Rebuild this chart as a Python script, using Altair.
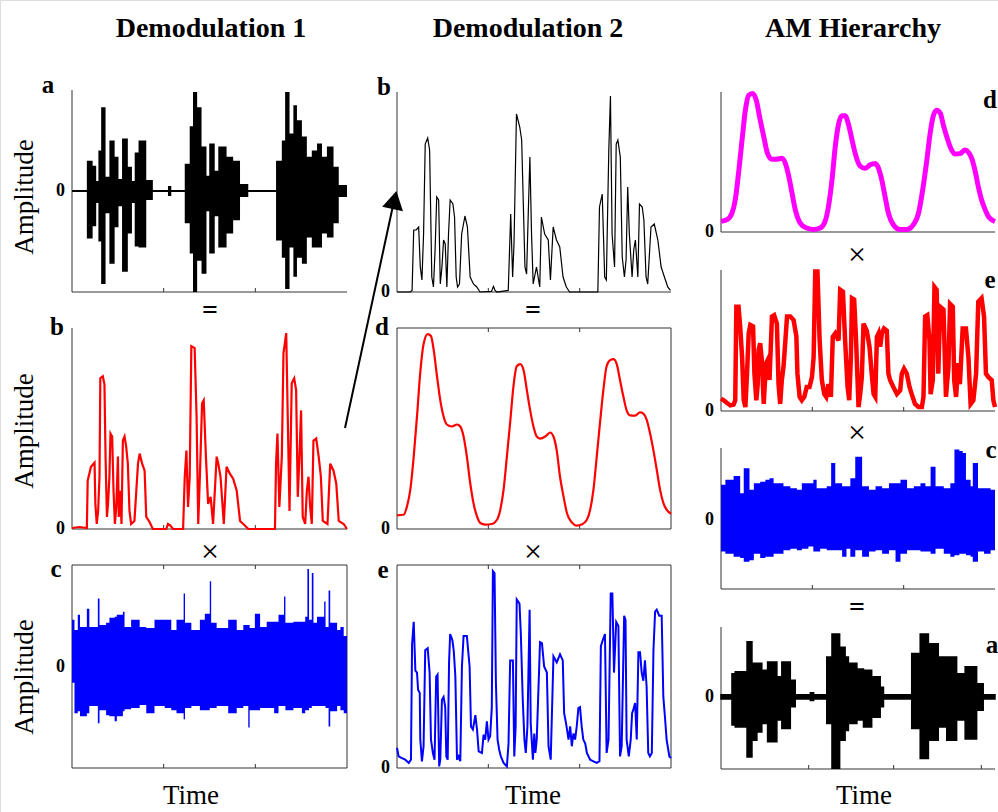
import altair as alt
import pandas as pd

SERIF = "Liberation Serif"
AXC = "#333333"
ONE = pd.DataFrame({"k": [0]})

# ---------------- Demodulation 1 : (a) speech waveform envelope ----------------
d1a_t = [0, 5.4, 7.5, 8.8, 9.6, 10.6, 12.2, 13.6, 15.5, 16.9, 18.2, 20.3, 21.8, 22.8, 24.2, 27.0, 29.4, 34.9, 36.1, 41.0,
         42.8, 44.0, 45.5, 47.1, 48.9, 49.9, 51.9, 53.2, 56.2, 58.6, 61.1, 64.1, 74.2, 76.3, 77.5, 79.1, 80.5, 81.8, 83.6, 85.4,
         87.2, 89.1, 90.9, 92.7, 95.1, 97.0, 100]
d1a_up = [0.01, 0.30, 0.25, 0.10, 0.40, 0.83, 0.14, 0.50, 0.34, 0.12, 0.52, 0.24, 0.10, 0.38, 0.50, 0.11, 0.01, 0.05, 0.01, 0.27,
          0.64, 0.98, 0.83, 0.44, 0.15, 0.47, 0.20, 0.44, 0.34, 0.30, 0.07, 0.01, 0.30, 0.50, 0.98, 0.57, 0.85, 0.70, 0.54, 0.34,
          0.40, 0.47, 0.34, 0.44, 0.24, 0.06, 0.01]
d1a_lo = [-0.01, -0.47, -0.35, -0.12, -0.50, -0.92, -0.22, -0.72, -0.36, -0.15, -0.80, -0.42, -0.12, -0.55, -0.56, -0.09, -0.01, -0.05, -0.01, -0.32,
          -0.62, -1.0, -0.69, -0.82, -0.20, -0.62, -0.25, -0.56, -0.42, -0.29, -0.06, -0.01, -0.49, -0.66, -0.97, -0.56, -0.85, -0.66, -0.72, -0.46,
          -0.56, -0.56, -0.42, -0.46, -0.32, -0.06, -0.01]

# ---------------- Demodulation 1 : (b) envelope (red) ----------------
d1b_t = [0, 2.7, 5.4, 5.7, 6.9, 8.2, 8.5, 9.0, 9.5, 10.0, 10.3, 11.2, 11.8, 12.2, 12.7, 13.1, 13.6, 14.0, 14.6, 15.1,
         15.6, 16.1, 16.7, 17.0, 17.5, 18.0, 18.5, 19.1, 19.7, 20.3, 20.9, 21.5, 22.7, 24.0, 24.6, 25.5, 26.4, 27.0, 28.2, 29.4,
         34.3, 34.9, 35.8, 36.7, 40.4, 41.0, 41.6, 42.2, 42.8, 43.4, 44.6, 45.3, 45.9, 46.5, 47.3, 47.9, 48.7, 49.5, 50.4, 51.3,
         52.6, 53.2, 54.0, 54.7, 55.2, 56.2, 57.4, 58.6, 59.9, 61.1, 62.3, 64.1, 73.8, 74.2, 74.7, 75.4, 76.3, 76.9, 77.9, 78.5,
         79.1, 79.9, 80.8, 81.5, 82.1, 82.7, 83.3, 83.9, 84.8, 85.4, 86.0, 86.6, 87.2, 87.8, 88.8, 89.7, 90.5, 91.2, 92.9, 93.9,
         95.1, 96.1, 97.0, 98.8, 100]
d1b_v = [0.005, 0.01, 0.005, 0.24, 0.31, 0.33, 0.125, 0.025, 0.09, 0.26, 0.75, 0.76, 0.72, 0.36, 0.06, 0.125, 0.26, 0.475, 0.46, 0.19,
         0.025, 0.11, 0.36, 0.06, 0.19, 0.025, 0.44, 0.46, 0.41, 0.325, 0.09, 0.025, 0.04, 0.325, 0.375, 0.325, 0.29, 0.06, 0.035, 0.0,
         0.0, 0.025, 0.017, 0.0, 0.0, 0.26, 0.39, 0.11, 0.26, 0.91, 0.90, 0.56, 0.025, 0.26, 0.625, 0.64, 0.36, 0.125, 0.16, 0.025,
         0.36, 0.325, 0.26, 0.125, 0.025, 0.31, 0.275, 0.25, 0.19, 0.04, 0.025, 0.0, 0.0, 0.325, 0.475, 0.11, 0.36, 0.875, 0.975, 0.525,
         0.09, 0.725, 0.75, 0.69, 0.16, 0.36, 0.59, 0.06, 0.025, 0.19, 0.26, 0.11, 0.025, 0.44, 0.45, 0.36, 0.26, 0.04, 0.025, 0.325,
         0.29, 0.225, 0.04, 0.025, 0.0]

# ---------------- Demodulation 1 : (c) carrier (blue noise band) ----------------
d1c_t = [0, 0.9, 2.1, 2.9, 5.4, 6.3, 9.4, 10.0, 12.4, 13.6, 15.5, 16.3, 18.5, 19.1, 21.5, 24.6, 27.0, 30.0, 33.7, 36.1,
         38.0, 40.6, 41.1, 43.4, 46.5, 48.3, 50.1, 50.6, 52.6, 56.8, 59.9, 62.3, 64.1, 64.6, 66.5, 68.4, 70.8, 73.5, 75.1, 77.1,
         77.6, 80.5, 83.6, 84.8, 85.6, 86.2, 87.2, 87.8, 89.1, 91.7, 92.2, 93.3, 93.9, 96.4, 97.6, 98.8, 100]
d1c_up = [0.46, 0.36, 0.51, 0.39, 0.57, 0.39, 0.67, 0.41, 0.43, 0.48, 0.49, 0.51, 0.54, 0.39, 0.46, 0.39, 0.38, 0.46, 0.46, 0.36,
          0.46, 0.72, 0.43, 0.36, 0.46, 0.52, 0.84, 0.43, 0.38, 0.46, 0.36, 0.41, 0.41, 0.38, 0.52, 0.39, 0.44, 0.44, 0.51, 0.69,
          0.43, 0.44, 0.44, 0.49, 0.96, 0.46, 0.92, 0.43, 0.49, 0.64, 0.39, 0.75, 0.43, 0.36, 0.39, 0.30, 0.36]
d1c_lo = [-0.16, -0.46, -0.44, -0.49, -0.46, -0.39, -0.56, -0.43, -0.48, -0.49, -0.54, -0.49, -0.44, -0.42, -0.41, -0.38, -0.46, -0.39, -0.41, -0.43,
          -0.46, -0.52, -0.41, -0.39, -0.43, -0.43, -0.41, -0.41, -0.39, -0.46, -0.41, -0.39, -0.60, -0.43, -0.43, -0.41, -0.41, -0.46, -0.39, -0.39,
          -0.43, -0.41, -0.46, -0.43, -0.43, -0.41, -0.39, -0.39, -0.39, -0.39, -0.41, -0.59, -0.44, -0.39, -0.43, -0.46, -0.46]

# ---------------- Demodulation 2 : (b) envelope (black) ----------------
d2b_t = [0, 4.8, 5.5, 6.1, 7.0, 7.9, 8.5, 9.1, 9.7, 10.3, 11.2, 11.9, 12.7, 13.3, 13.9, 14.5, 15.2, 15.8, 16.4, 17.0,
         17.6, 18.2, 18.8, 19.4, 20.4, 21.0, 21.6, 22.1, 22.8, 23.6, 24.8, 25.7, 26.7, 27.9, 29.1, 30.3, 34.5, 35.2, 35.8, 36.4,
         40.6, 41.5, 42.2, 42.7, 43.6, 44.8, 45.5, 46.7, 47.3, 47.9, 48.5, 49.1, 49.7, 50.9, 52.1, 52.7, 53.9, 55.2, 56.0, 57.0,
         58.2, 59.4, 60.6, 61.8, 63.0, 73.3, 73.9, 74.9, 75.8, 76.4, 77.3, 77.9, 78.5, 79.4, 80.0, 80.6, 81.5, 82.2, 83.0, 83.6,
         84.2, 84.8, 85.8, 86.4, 87.0, 87.9, 88.5, 89.5, 90.1, 90.9, 91.5, 92.7, 93.9, 95.2, 96.4, 97.6, 98.8, 99.8]
d2b_v = [0, 0, 0.008, 0.31, 0.31, 0.325, 0.125, 0.06, 0.29, 0.74, 0.77, 0.71, 0.075, 0.025, 0.21, 0.475, 0.46, 0.04, 0.125, 0.26,
         0.24, 0.025, 0.29, 0.46, 0.44, 0.375, 0.075, 0.025, 0.04, 0.29, 0.38, 0.325, 0.075, 0.04, 0.025, 0, 0.003, 0.028, 0.008, 0,
         0.008, 0.39, 0.075, 0.24, 0.89, 0.825, 0.76, 0.125, 0.09, 0.39, 0.675, 0.29, 0.04, 0.125, 0.025, 0.375, 0.29, 0.26, 0.06, 0.325,
         0.26, 0.225, 0.075, 0.025, 0, 0, 0.425, 0.49, 0.075, 0.06, 0.71, 0.98, 0.29, 0.125, 0.74, 0.76, 0.675, 0.175, 0.075, 0.16,
         0.525, 0.29, 0.075, 0.21, 0.26, 0.075, 0.44, 0.425, 0.36, 0.075, 0.04, 0.325, 0.34, 0.26, 0.125, 0.075, 0.025, 0.008]

# ---------------- Demodulation 2 : (d) slow envelope (red) ----------------
d2d_t = [0, 2.4, 3.6, 4.9, 6.1, 7.3, 8.5, 9.7, 11.2, 12.4, 13.4, 14.6, 15.8, 17.0, 18.2, 20.0, 21.9, 23.1, 24.3, 25.5,
         26.7, 27.9, 29.2, 30.4, 32.2, 34.6, 36.5, 37.7, 38.9, 40.1, 41.3, 42.5, 43.7, 45.0, 46.2, 47.4, 48.6, 49.8, 51.0, 52.2,
         54.1, 55.9, 57.1, 58.3, 59.5, 60.8, 62.0, 63.8, 65.6, 67.4, 69.3, 70.5, 71.7, 72.9, 74.1, 75.3, 76.5, 77.8, 79.0, 80.2,
         81.4, 82.6, 83.8, 85.1, 86.9, 88.7, 89.9, 91.1, 92.3, 93.6, 94.8, 96.0, 97.2, 98.4, 100]
d2d_v = [0.068, 0.071, 0.11, 0.20, 0.36, 0.56, 0.78, 0.92, 0.97, 0.96, 0.89, 0.76, 0.64, 0.56, 0.52, 0.51, 0.52, 0.51, 0.46, 0.36,
         0.23, 0.13, 0.063, 0.03, 0.022, 0.025, 0.046, 0.096, 0.196, 0.36, 0.53, 0.71, 0.81, 0.82, 0.79, 0.69, 0.59, 0.51, 0.46, 0.45,
         0.46, 0.48, 0.46, 0.39, 0.26, 0.16, 0.08, 0.033, 0.017, 0.022, 0.046, 0.096, 0.196, 0.36, 0.53, 0.69, 0.81, 0.84, 0.845, 0.82,
         0.74, 0.66, 0.59, 0.565, 0.564, 0.58, 0.574, 0.544, 0.48, 0.39, 0.295, 0.196, 0.13, 0.096, 0.076]

# ---------------- Demodulation 2 : (e) fast envelope (blue) ----------------
d2e_t = [0, 0.6, 1.8, 3.0, 4.3, 5.1, 5.5, 6.1, 6.7, 7.3, 7.7, 8.3, 8.5, 9.1, 9.7, 10.3, 11.2, 11.9, 12.4, 13.1,
         13.7, 14.3, 14.8, 15.4, 15.8, 16.4, 17.0, 17.6, 18.0, 18.5, 19.0, 19.4, 20.2, 20.7, 21.3, 21.9, 22.5, 23.1, 23.7, 24.3,
         25.5, 26.5, 27.0, 27.7, 28.6, 29.2, 29.8, 31.0, 31.6, 32.2, 32.8, 33.4, 34.0, 34.6, 35.0, 35.6, 36.1, 36.7, 37.3, 37.9,
         38.9, 40.1, 40.7, 41.3, 42.3, 42.8, 43.3, 43.7, 44.7, 45.2, 45.9, 46.5, 47.0, 47.6, 48.4, 48.8, 49.6, 50.1, 50.5, 51.0,
         52.2, 52.9, 53.7, 54.7, 55.3, 56.1, 57.1, 58.3, 59.5, 60.5, 61.0, 61.7, 62.6, 63.2, 63.8, 64.4, 65.0, 65.6, 66.2, 66.8,
         67.4, 68.0, 68.7, 69.3, 70.5, 71.7, 72.9, 73.9, 74.4, 75.1, 75.9, 76.5, 77.2, 78.0, 78.6, 79.2, 80.0, 80.8, 81.4, 82.0,
         82.9, 83.4, 83.8, 84.6, 85.3, 85.8, 86.3, 86.9, 87.5, 88.1, 88.7, 89.3, 89.9, 90.5, 91.1, 91.7, 92.3, 93.0, 93.6, 94.2,
         94.8, 95.7, 96.6, 97.2, 97.8, 98.4, 99.4, 100]
d2e_v = [0.10, 0.057, 0.049, 0.041, 0.025, 0.041, 0.61, 0.72, 0.48, 0.47, 0.385, 0.37, 0.14, 0.033, 0.107, 0.58, 0.59, 0.47, 0.14, 0.074,
         0.041, 0.45, 0.46, 0.008, 0.041, 0.336, 0.35, 0.30, 0.057, 0.041, 0.52, 0.66, 0.63, 0.58, 0.45, 0.041, 0.057, 0.033, 0.50, 0.65,
         0.65, 0.50, 0.205, 0.19, 0.26, 0.19, 0.082, 0.074, 0.164, 0.14, 0.23, 0.14, 0.156, 0.30, 0.97, 0.96, 0.42, 0.14, 0.09, 0.057,
         0.025, 0.008, 0.12, 0.53, 0.53, 0.057, 0.205, 0.83, 0.81, 0.66, 0.336, 0.14, 0.074, 0.205, 0.78, 0.22, 0.041, 0.17, 0.074, 0.14,
         0.62, 0.615, 0.50, 0.47, 0.107, 0.041, 0.55, 0.52, 0.56, 0.53, 0.27, 0.22, 0.14, 0.205, 0.107, 0.17, 0.14, 0.205, 0.295, 0.30,
         0.205, 0.14, 0.12, 0.074, 0.041, 0.033, 0.025, 0.033, 0.60, 0.63, 0.66, 0.074, 0.14, 0.86, 0.86, 0.47, 0.72, 0.70, 0.057, 0.107,
         0.75, 0.73, 0.14, 0.057, 0.14, 0.27, 0.29, 0.32, 0.14, 0.57, 0.57, 0.47, 0.43, 0.53, 0.40, 0.074, 0.057, 0.074, 0.58, 0.77,
         0.78, 0.75, 0.75, 0.35, 0.25, 0.14, 0.057, 0.049]

# ---------------- AM Hierarchy : (d) magenta ----------------
h3d_t = [0, 2.2, 4.0, 5.2, 6.4, 7.7, 8.9, 10.1, 11.5, 12.9, 14.1, 15.6, 17.0, 18.6, 20.4, 22.2, 23.5, 24.7, 25.9, 27.1,
         28.9, 31.3, 33.8, 36.2, 38.0, 39.2, 40.5, 41.7, 42.9, 44.1, 45.3, 46.5, 47.8, 49.0, 50.8, 52.6, 54.4, 56.3, 57.5, 58.7,
         59.9, 61.1, 62.9, 65.4, 67.8, 70.2, 72.1, 73.6, 75.1, 76.3, 77.5, 78.7, 80.0, 81.2, 82.4, 83.8, 85.4, 87.2, 89.1, 90.3,
         91.5, 92.7, 93.9, 95.1, 96.4, 97.6, 98.8, 100]
h3d_v = [0.076, 0.088, 0.135, 0.23, 0.42, 0.66, 0.87, 0.976, 0.99, 0.94, 0.82, 0.68, 0.56, 0.52, 0.52, 0.526, 0.49, 0.40, 0.28, 0.16,
         0.064, 0.028, 0.017, 0.028, 0.076, 0.18, 0.37, 0.61, 0.77, 0.83, 0.83, 0.77, 0.66, 0.56, 0.47, 0.455, 0.48, 0.49, 0.455, 0.37,
         0.25, 0.135, 0.052, 0.017, 0.017, 0.052, 0.135, 0.30, 0.51, 0.70, 0.83, 0.87, 0.85, 0.76, 0.68, 0.60, 0.557, 0.56, 0.585, 0.57,
         0.526, 0.44, 0.325, 0.23, 0.16, 0.11, 0.088, 0.076]

# ---------------- AM Hierarchy : (e) red ----------------
h3e_t = [0, 1.0, 2.2, 3.4, 4.6, 5.2, 5.6, 6.4, 7.0, 7.7, 8.3, 8.9, 9.5, 10.1, 10.7, 11.7, 12.2, 12.9, 13.4, 13.7,
         14.3, 14.9, 15.6, 16.2, 16.5, 17.0, 17.7, 18.6, 19.4, 20.4, 21.0, 21.6, 22.2, 22.8, 23.5, 24.1, 25.3, 26.5, 27.5, 27.9,
         28.7, 29.5, 30.4, 31.3, 32.3, 33.2, 33.8, 34.4, 35.2, 36.0, 36.8, 37.7, 38.4, 39.2, 40.1, 40.8, 41.7, 42.9, 43.5, 44.5,
         45.3, 46.2, 46.8, 47.4, 47.8, 48.6, 49.3, 50.2, 50.8, 51.4, 52.0, 53.2, 54.2, 55.0, 55.7, 56.3, 56.9, 57.5, 58.1, 58.7,
         59.5, 60.5, 61.1, 61.7, 62.9, 64.2, 65.4, 66.0, 66.8, 67.8, 68.8, 69.6, 70.8, 72.1, 73.3, 73.9, 74.5, 75.3, 76.1, 76.5,
         77.3, 77.9, 78.7, 79.3, 80.0, 81.2, 82.1, 83.0, 83.6, 84.6, 85.1, 85.8, 86.6, 87.2, 88.2, 89.4, 90.3, 91.1, 92.1, 93.1,
         93.9, 95.1, 96.0, 96.7, 97.6, 98.8, 99.4, 100]
h3e_v = [0.088, 0.076, 0.057, 0.04, 0.045, 0.076, 0.74, 0.74, 0.60, 0.38, 0.076, 0.028, 0.265, 0.55, 0.61, 0.60, 0.265, 0.076, 0.19, 0.43,
         0.48, 0.36, 0.05, 0.265, 0.34, 0.36, 0.22, 0.67, 0.68, 0.62, 0.19, 0.05, 0.22, 0.31, 0.50, 0.67, 0.67, 0.645, 0.53, 0.265,
         0.10, 0.076, 0.10, 0.17, 0.17, 0.24, 0.38, 0.99, 0.99, 0.50, 0.22, 0.12, 0.10, 0.19, 0.10, 0.526, 0.55, 0.50, 0.86, 0.846,
         0.50, 0.17, 0.076, 0.38, 0.80, 0.79, 0.50, 0.028, 0.12, 0.24, 0.62, 0.57, 0.455, 0.265, 0.12, 0.10, 0.526, 0.55, 0.455, 0.55,
         0.585, 0.57, 0.265, 0.22, 0.17, 0.12, 0.147, 0.265, 0.30, 0.265, 0.17, 0.12, 0.05, 0.028, 0.028, 0.10, 0.67, 0.68, 0.50, 0.12,
         0.22, 0.88, 0.86, 0.265, 0.74, 0.72, 0.10, 0.31, 0.76, 0.74, 0.22, 0.10, 0.34, 0.19, 0.585, 0.585, 0.38, 0.05, 0.076, 0.265,
         0.775, 0.80, 0.67, 0.265, 0.24, 0.22, 0.076, 0.028]

# ---------------- AM Hierarchy : (c) blue carrier band ----------------
h3c_t = [0, 1.6, 4.6, 7.0, 8.3, 10.4, 12.0, 14.3, 16.2, 17.7, 19.2, 21.0, 22.8, 25.3, 27.7, 29.5, 31.9, 33.7, 34.9, 36.2,
         38.6, 40.2, 41.7, 44.2, 45.8, 47.2, 49.0, 51.5, 54.0, 56.4, 58.8, 61.3, 63.7, 65.5, 67.9, 70.4, 72.8, 74.6, 76.5, 78.3,
         81.3, 83.7, 85.2, 87.0, 88.2, 89.4, 91.1, 91.9, 93.4, 93.8, 96.0, 98.4, 100]
h3c_up = [0.49, 0.56, 0.61, 0.37, 0.72, 0.42, 0.51, 0.53, 0.56, 0.58, 0.51, 0.51, 0.47, 0.44, 0.42, 0.51, 0.51, 0.56, 0.44, 0.44,
          0.47, 0.79, 0.51, 0.47, 0.47, 0.58, 0.88, 0.47, 0.42, 0.47, 0.44, 0.51, 0.51, 0.56, 0.44, 0.47, 0.51, 0.47, 0.74, 0.47,
          0.44, 0.51, 0.98, 0.96, 0.93, 0.56, 0.47, 0.79, 0.79, 0.44, 0.44, 0.42, 0.40]
h3c_lo = [-0.44, -0.47, -0.51, -0.53, -0.58, -0.56, -0.47, -0.53, -0.51, -0.51, -0.47, -0.47, -0.42, -0.40, -0.42, -0.40, -0.37, -0.44, -0.44, -0.40,
          -0.42, -0.42, -0.42, -0.51, -0.40, -0.51, -0.42, -0.51, -0.44, -0.42, -0.47, -0.42, -0.58, -0.47, -0.42, -0.42, -0.44, -0.44, -0.47, -0.40,
          -0.47, -0.51, -0.49, -0.47, -0.47, -0.49, -0.51, -0.58, -0.58, -0.44, -0.47, -0.42, -0.44]

# ---------------- AM Hierarchy : (a) reconstructed waveform ----------------
h3a_t = [0, 4.0, 5.2, 9.5, 11.3, 13.1, 14.9, 17.0, 20.4, 22.2, 25.3, 27.1, 32.6, 33.8, 38.6, 40.5, 43.3, 45.3, 46.5, 49.6,
         52.0, 55.0, 58.1, 59.3, 69.6, 72.7, 75.7, 79.3, 82.4, 86.0, 89.1, 93.3, 95.7, 100]
h3a_up = [0.03, 0.33, 0.36, 0.79, 0.48, 0.48, 0.38, 0.50, 0.29, 0.50, 0.24, 0.03, 0.06, 0.03, 0.57, 0.90, 0.71, 0.57, 0.48, 0.40,
          0.38, 0.29, 0.14, 0.03, 0.62, 0.90, 0.76, 0.57, 0.57, 0.33, 0.43, 0.19, 0.03, 0.03]
h3a_lo = [-0.03, -0.40, -0.43, -0.86, -0.62, -0.50, -0.38, -0.64, -0.33, -0.45, -0.14, -0.03, -0.05, -0.03, -0.38, -1.02, -0.62, -0.48, -0.38, -0.33,
          -0.43, -0.29, -0.14, -0.03, -0.45, -0.88, -0.62, -0.43, -0.62, -0.33, -0.60, -0.19, -0.03, -0.03]


# ---------------------------------------------------------------------------
def sx(x0, x1):
    return alt.Scale(domain=[0, 100], range=[x0, x1], nice=False, zero=False)


def sy(y0, y1, dom):
    return alt.Scale(domain=list(dom), range=[y1, y0], nice=False, zero=False)


def line_layer(t, v, xs, ys, color, width, interp="linear"):
    df = pd.DataFrame({"t": t, "v": v})
    return alt.Chart(df).mark_line(color=color, strokeWidth=width, interpolate=interp).encode(
        x=alt.X("t:Q", scale=xs, axis=None),
        y=alt.Y("v:Q", scale=ys, axis=None),
    )


def band_layer(t, up, lo, xs, ys, color, stroke_w=0.0):
    df = pd.DataFrame({"t": t, "up": up, "lo": lo})
    kw = dict(color=color, interpolate="step-after", opacity=1)
    if stroke_w:
        kw.update(stroke=color, strokeWidth=stroke_w)
    return alt.Chart(df).mark_area(**kw).encode(
        x=alt.X("t:Q", scale=xs, axis=None),
        y=alt.Y("up:Q", scale=ys, axis=None),
        y2=alt.Y2("lo:Q"),
    )


def frame_layers(xs, ys, dom, height, box, bticks, tticks, zero_x):
    lo, hi = dom

    def X(v):
        return alt.XDatum(v, type="quantitative", scale=xs, axis=None)

    def Y(v):
        return alt.YDatum(v, type="quantitative", scale=ys, axis=None)

    rule = alt.Chart(ONE).mark_rule(color=AXC, strokeWidth=1)
    out = [
        rule.encode(x=X(0), y=Y(lo), y2=alt.Y2Datum(hi)),
        rule.encode(x=X(0), x2=alt.X2Datum(100), y=Y(lo)),
    ]
    if box:
        out += [
            rule.encode(x=X(100), y=Y(lo), y2=alt.Y2Datum(hi)),
            rule.encode(x=X(0), x2=alt.X2Datum(100), y=Y(hi)),
        ]
    k = 4.0 / height * (hi - lo)
    for f in bticks:
        out.append(rule.encode(x=X(f), y=Y(lo), y2=alt.Y2Datum(lo + k)))
    for f in tticks:
        out.append(rule.encode(x=X(f), y=Y(hi), y2=alt.Y2Datum(hi - k)))
    out.append(
        alt.Chart(ONE).mark_text(text="0", align="right", baseline="middle", font=SERIF,
                                 fontWeight="bold", fontSize=18, color="black")
        .encode(x=alt.value(zero_x), y=Y(0))
    )
    return out


def panel(x0, x1, y0, y1, dom, data_fn, box=False, bticks=(33.33, 66.67), tticks=()):
    xs, ys = sx(x0, x1), sy(y0, y1, dom)
    layers = frame_layers(xs, ys, dom, y1 - y0, box, bticks, tticks, x0 - 7)
    layers += data_fn(xs, ys)
    return alt.layer(*layers)


def label(txt, x, y, size, weight="normal", align="center", baseline="alphabetic", angle=0):
    kw = dict(text=txt, font=SERIF, fontSize=size, fontWeight=weight, align=align,
              baseline=baseline, color="black")
    if angle:
        kw["angle"] = angle
    return alt.Chart(ONE).mark_text(**kw).encode(x=alt.value(x), y=alt.value(y))


T3 = (33.33, 66.67)
panels = [
    # column 1 : Demodulation 1
    panel(72, 347, 90, 292, (-1, 1),
          lambda xs, ys: [band_layer(d1a_t, d1a_up, d1a_lo, xs, ys, "black")]),
    panel(72, 347, 328, 529, (0, 1),
          lambda xs, ys: [line_layer(d1b_t, d1b_v, xs, ys, "#ff0000", 2.2)]),
    panel(72, 347, 565, 768, (-1, 1),
          lambda xs, ys: [band_layer(d1c_t, d1c_up, d1c_lo, xs, ys, "#0000ff")], box=True, tticks=T3),
    # column 2 : Demodulation 2
    panel(397, 671, 92, 292, (0, 1),
          lambda xs, ys: [line_layer(d2b_t, d2b_v, xs, ys, "black", 1.2)]),
    panel(397, 671, 328, 529, (0, 1),
          lambda xs, ys: [line_layer(d2d_t, d2d_v, xs, ys, "#ff0000", 2.2, "monotone")], box=True, tticks=T3),
    panel(397, 671, 565, 768, (0, 1),
          lambda xs, ys: [line_layer(d2e_t, d2e_v, xs, ys, "#0000ff", 2.0)], box=True, tticks=T3),
    # column 3 : AM Hierarchy
    panel(721, 995, 92, 232, (0, 1),
          lambda xs, ys: [line_layer(h3d_t, h3d_v, xs, ys, "#ff00ff", 5, "monotone")]),
    panel(721, 995, 270, 411, (0, 1),
          lambda xs, ys: [line_layer(h3e_t, h3e_v, xs, ys, "#ff0000", 4.5)]),
    panel(721, 995, 448, 589, (-0.96, 1),
          lambda xs, ys: [band_layer(h3c_t, h3c_up, h3c_lo, xs, ys, "#0000ff")]),
    panel(721, 995, 627, 769, (-1.03, 1),
          lambda xs, ys: [band_layer(h3a_t, h3a_up, h3a_lo, xs, ys, "black", 1.5)],
          bticks=(32, 63, 95)),
]

annotations = [
    label("Demodulation 1", 211, 37, 28, "bold"),
    label("Demodulation 2", 528, 37, 28, "bold"),
    label("AM Hierarchy", 853, 37, 28, "bold"),
    # panel letters
    label("a", 48, 93, 25, "bold"),
    label("b", 57, 335, 25, "bold"),
    label("c", 56, 577, 25, "bold"),
    label("b", 384, 95, 25, "bold"),
    label("d", 382, 335, 25, "bold"),
    label("e", 383, 578, 25, "bold"),
    label("d", 990, 108, 25, "bold"),
    label("e", 990, 288, 25, "bold"),
    label("c", 991, 458, 25, "bold"),
    label("a", 992, 653, 25, "bold"),
    # operators
    label("=", 210, 311, 28, "bold", baseline="middle"),
    label("=", 533, 311, 28, "bold", baseline="middle"),
    label("=", 857, 608, 28, "bold", baseline="middle"),
    label("×", 210, 552, 32, baseline="middle"),
    label("×", 533, 552, 32, baseline="middle"),
    label("×", 857, 255, 32, baseline="middle"),
    label("×", 857, 433, 32, baseline="middle"),
    # axis titles
    label("Amplitude", 33, 197, 27, angle=270),
    label("Amplitude", 33, 431, 27, angle=270),
    label("Amplitude", 33, 677, 27, angle=270),
    label("Time", 191, 804, 27),
    label("Time", 533, 804, 27),
    label("Time", 864, 804, 27),
    # arrow from Demodulation 1 (b) to Demodulation 2 (b)
    alt.Chart(ONE).mark_rule(color="black", strokeWidth=2).encode(
        x=alt.value(345), y=alt.value(428), x2=alt.value(394), y2=alt.value(201)),
    alt.Chart(ONE).mark_point(shape="triangle-up", filled=True, size=450, angle=12,
                              color="black", opacity=1).encode(
        x=alt.value(394.5), y=alt.value(200)),
]

chart = (
    alt.layer(*panels, *annotations)
    .resolve_scale(x="independent", y="independent")
    .properties(width=998, height=812, padding=0,
                autosize=alt.AutoSizeParams(type="none"))
    .configure_view(stroke=None)
    .configure(background="white")
)

chart.save("out.html", embed_options={"renderer": "svg", "actions": False})
